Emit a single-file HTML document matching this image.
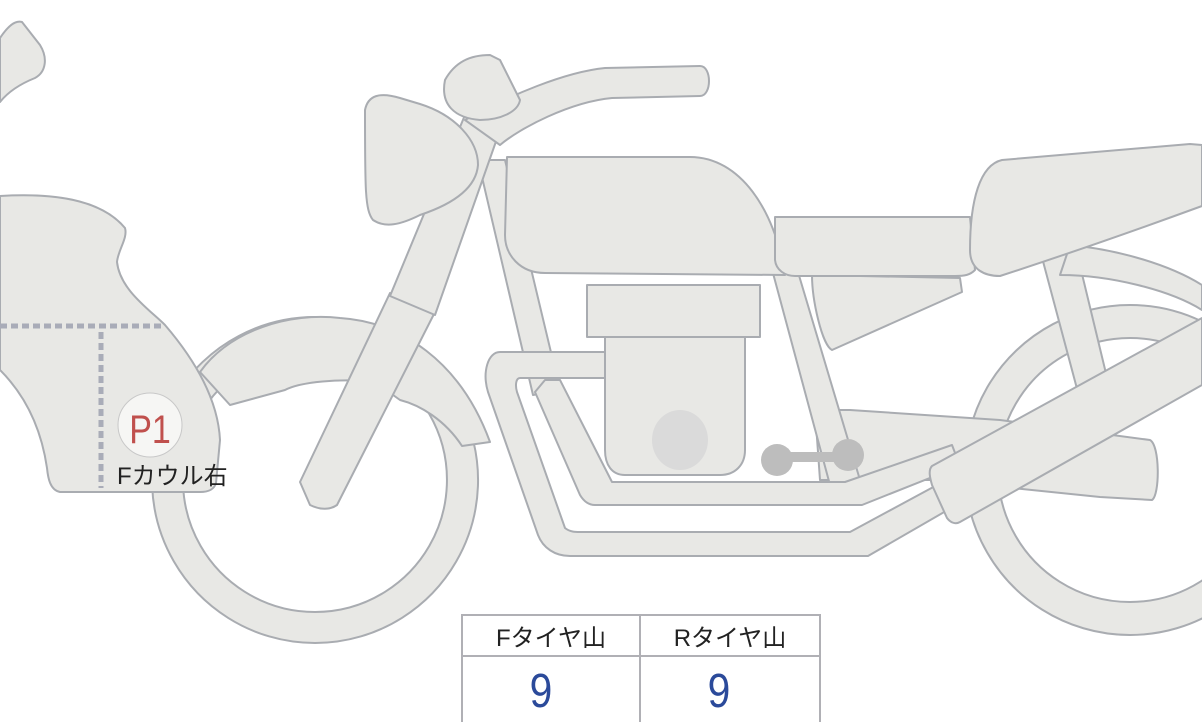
<!DOCTYPE html>
<html><head><meta charset="utf-8"><style>
html,body{margin:0;padding:0;background:#fff;width:1202px;height:722px;overflow:hidden}
svg{position:absolute;left:0;top:0}
.t{font-family:"Liberation Sans","Noto Sans CJK JP",sans-serif}
</style></head><body>
<svg width="1202" height="722" viewBox="0 0 1202 722">
<g fill="#e8e8e5" stroke="#a9acb1" stroke-width="2" stroke-linejoin="round">
<!-- rear wheel -->
<path fill-rule="evenodd" d="M1130,305 a165,165 0 1,0 0.1,0 Z M1130,338 a132,132 0 1,1 -0.1,0 Z"/>
<!-- front wheel -->
<path fill-rule="evenodd" d="M315,317 a163,163 0 1,0 0.1,0 Z M315,348 a132,132 0 1,1 -0.1,0 Z"/>
<!-- front fender -->
<path d="M200,372 C230,330 290,312 340,318 C400,322 460,360 490,442 L462,446 C445,420 420,405 400,400 L375,382 C340,378 300,382 285,390 L230,405 Z"/>
<!-- rear frame struts -->
<path d="M1040,250 L1075,245 L1110,390 L1080,400 Z"/>
<path d="M1070,245 C1120,250 1170,265 1202,285 L1202,310 C1170,290 1110,275 1060,275 Z"/>
<!-- swingarm -->
<path d="M815,410 L850,410 L1000,420 L1150,440 C1160,445 1160,495 1152,500 L1100,497 L935,480 L820,480 Z"/>
<!-- down frame -->
<path d="M478,160 L505,160 L560,390 L533,395 Z"/>
<path d="M770,262 L795,262 L860,480 L830,485 Z"/>
<!-- exhaust outer -->
<path d="M500,352 L620,352 L620,378 L520,378 C516,378 515,385 517,392 L565,528 C570,532 575,532 580,532 L850,532 L950,478 L965,500 L868,556 L570,556 C555,556 543,548 538,535 L488,392 C482,372 488,352 500,352 Z"/>
<!-- exhaust inner -->
<path d="M545,380 L560,380 L612,482 L845,482 L952,445 L960,466 L862,505 L595,505 C588,505 583,500 580,495 L535,392 Z"/>
<!-- muffler -->
<path d="M932,466 L1202,318 L1202,385 L960,522 C955,525 950,522 947,518 L932,485 C930,478 928,470 932,466 Z"/>
<!-- engine -->
<path d="M605,330 L745,330 L745,450 C745,465 735,475 720,475 L625,475 C612,475 605,465 605,450 Z"/>
<rect x="587" y="285" width="173" height="52"/>
<!-- side cover -->
<path d="M812,275 L960,278 L962,292 L832,350 C822,345 812,300 812,275 Z"/>
<!-- tank -->
<path d="M507,157 L690,157 C740,157 775,210 785,275 L545,273 C520,273 505,255 505,235 Z"/>
<!-- seat -->
<path d="M775,217 L970,217 L975,270 C970,275 965,276 955,276 L795,276 C785,276 776,270 775,260 Z"/>
<path d="M1002,160 L1190,144 L1202,145 L1202,206 C1150,225 1080,250 1000,276 C985,276 970,270 970,250 C970,200 980,165 1002,160 Z"/>
<!-- fork -->
<path d="M300,482 L390,293 L435,312 L337,505 C330,510 320,510 310,505 Z"/>
<path d="M390,296 L465,115 L500,130 L435,315 Z"/>
<!-- handlebar -->
<path d="M465,120 C510,95 565,72 605,68 L700,66 C712,66 712,96 700,96 L612,98 C570,102 520,128 500,145 Z"/>
<!-- instrument -->
<path d="M445,80 C455,62 470,55 490,55 L500,60 L520,100 C518,112 500,120 480,120 C455,118 440,105 445,80 Z"/>
<!-- headlight -->
<path d="M365,110 C368,95 380,92 400,98 L420,104 C455,115 478,140 478,165 C476,190 450,205 420,215 C400,225 385,228 373,220 C365,210 365,190 365,110 Z"/>
<!-- front cowl -->
<path d="M0,196 C50,193 100,198 125,228 C128,238 118,250 117,262 C120,290 150,310 165,325 C195,360 218,400 220,440 L216,483 C214,490 208,492 200,492 L60,492 C50,490 48,478 47,468 C40,420 20,390 0,370 Z"/>
<path d="M0,38 C8,26 15,20 22,22 L40,45 C48,58 46,72 35,78 C20,84 8,92 0,102 Z"/>
</g>
<!-- engine dot -->
<ellipse cx="680" cy="440" rx="28" ry="30" fill="#dadada"/>
<!-- brake pedal -->
<g fill="#bdbdbd"><circle cx="777" cy="460" r="16"/><circle cx="848" cy="455" r="16"/><rect x="777" y="452" width="71" height="10"/></g>
<!-- dotted lines -->
<g stroke="#a9acb8" stroke-width="5" stroke-dasharray="7 4" fill="none">
<line x1="0" y1="326" x2="165" y2="326"/>
<line x1="101" y1="332" x2="101" y2="488"/>
</g>
<!-- P1 -->
<circle cx="150" cy="425" r="32" fill="#f6f6f4" stroke="#c8c8c8" stroke-width="1"/>
<text x="0" y="0" text-anchor="middle" class="t" font-size="40" fill="#c0504d" transform="translate(150,443) scale(0.85,1)">P1</text>
<text x="117" y="484" class="t" font-size="24" fill="#222">Fカウル右</text>
<!-- table -->
<g fill="#fff" stroke="#b0b0b5" stroke-width="2">
<rect x="462" y="615" width="358" height="110"/>
<line x1="462" y1="656" x2="820" y2="656"/>
<line x1="640" y1="615" x2="640" y2="722"/>
</g>
<text x="551" y="646" text-anchor="middle" class="t" font-size="24" fill="#222">Fタイヤ山</text>
<text x="730" y="646" text-anchor="middle" class="t" font-size="24" fill="#222">Rタイヤ山</text>
<text x="0" y="0" text-anchor="middle" class="t" font-size="48" fill="#2b4a9a" transform="translate(541,707) scale(0.85,1)">9</text>
<text x="0" y="0" text-anchor="middle" class="t" font-size="48" fill="#2b4a9a" transform="translate(719,707) scale(0.85,1)">9</text>
</svg>
</body></html>
